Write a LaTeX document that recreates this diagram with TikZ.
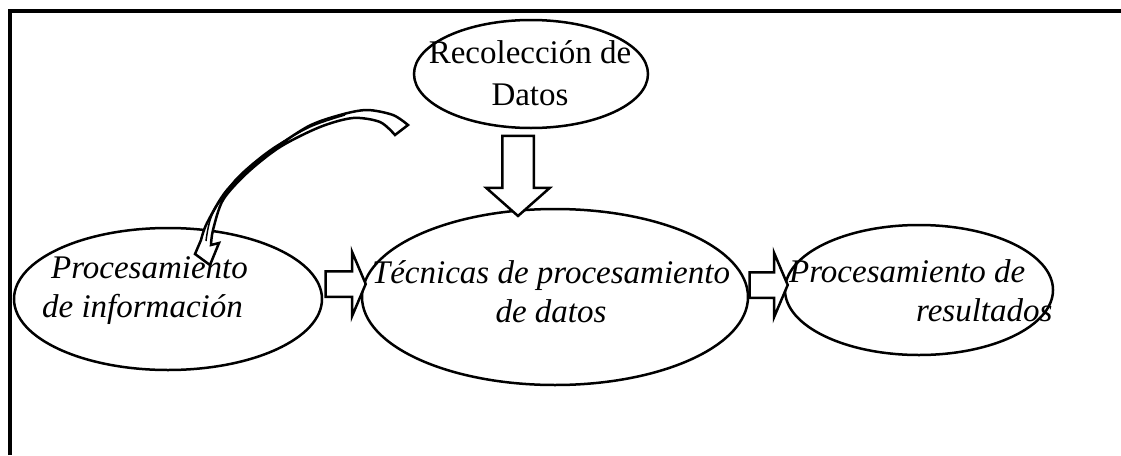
\documentclass[tikz,border=0pt]{standalone}
\usepackage{fontspec}
\setmainfont{Liberation Serif}
\usetikzlibrary{shapes.geometric,shapes.arrows}

\tikzset{
	oval/.style={ellipse, draw, line width=2.5pt, inner sep=0pt},
	lbl/.style={font=\fontsize{33}{42}\selectfont, inner sep=0pt},
	itlbl/.style={font=\fontsize{33}{39}\selectfont\itshape, inner sep=0pt},
	blockarrow/.style={single arrow, draw, line width=2.5pt, fill=white, inner xsep=0pt,
		text height=0pt, text depth=0pt, single arrow head indent=0pt}
}

\begin{document}
\begin{tikzpicture}[x=1pt,y=-1pt]
	\useasboundingbox (0,0) rectangle (1121,455);
	
	% Frame (open at the right and bottom)
	\draw[line width=3.5pt] (10,455) -- (10,11) -- (1121,11);
	
	% Ovals
	\node[oval, minimum width=234pt, minimum height=108pt] (recolec) at (531,74) {};
	\node[oval, minimum width=308pt, minimum height=142pt] (procinfo) at (168,299) {};
	\node[oval, minimum width=386pt, minimum height=176pt] (tecnicas) at (555,297) {};
	\node[oval, minimum width=268pt, minimum height=130pt] (procres) at (919,290) {};
	
	% Texts
	\node[lbl, align=center] (recolecTxt) at (530,73) {Recolecci\'on de\\Datos};
	\node[itlbl, align=left] (procinfoTxt) at (145,291)
		{\hspace*{9pt}Procesamiento\\de informaci\'on};
	\node[itlbl, align=center] (tecnicasTxt) at (551,292)
		{T\'ecnicas de procesamiento\\de datos};
	\node[itlbl, align=left, anchor=west] (procresTxt) at (789,291)
		{Procesamiento de\\\hspace*{127pt}resultados};
	
	% Straight block arrows
	\node[blockarrow, rotate=-90, minimum height=80pt, minimum width=61pt, inner ysep=14.5pt,
		single arrow head extend=16pt, single arrow tip angle=97] (downArrow) at (518,169) {};
	\node[blockarrow, minimum height=40pt, minimum width=62pt, inner ysep=11.5pt,
		single arrow head extend=19.5pt, single arrow tip angle=134] (arrowA) at (343,284) {};
	\node[blockarrow, minimum height=38pt, minimum width=62pt, inner ysep=11.5pt,
		single arrow head extend=19.5pt, single arrow tip angle=134] (arrowB) at (766,285) {};
	
	% Curved block arrow
	\draw[line width=2.5pt, fill=white, line join=miter]
		plot[smooth] coordinates {(408,125) (393,115) (367,110) (340,115) (307,127)
			(263,157) (227,190) (207,223) (201,240)}
		-- (195,254) -- (210,265) -- (219,243) -- (211,245)
		-- plot[smooth] coordinates {(211,245) (213,230) (223,200) (247,173) (280,147)
			(320,127) (353,118) (380,122) (395,135)}
		-- cycle;
	\draw[line width=1.5pt] plot[smooth] coordinates {(206,241) (212,215) (235,180) (270,150) (310,127) (345,115)};
\end{tikzpicture}
\end{document}
